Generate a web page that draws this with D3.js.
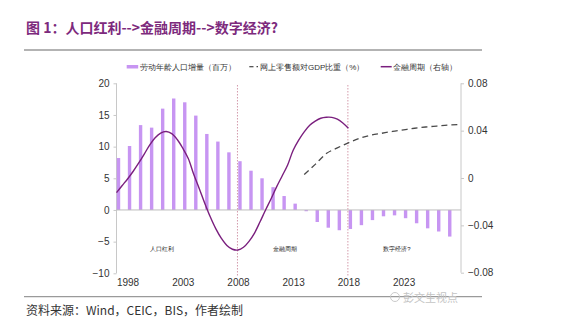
<!DOCTYPE html>
<html><head><meta charset="utf-8">
<script src="https://cdn.jsdelivr.net/npm/d3@7"></script>
<style>
html,body{margin:0;padding:0;background:#fff;}
svg{display:block;}
text{font-family:"Liberation Sans",Arial,sans-serif;}
.cjk{font-family:"Noto Sans CJK SC",sans-serif;}
</style></head>
<body>
<svg id="c" width="565" height="331"></svg>
<script>
// ---- data ----
const barYears = d3.range(1997, 2028);
const laborIncrement = [8.2,10.1,13.4,13.0,16.0,17.6,17.0,14.9,12.0,10.8,9.1,7.7,6.2,5.0,3.6,2.2,1.0,-0.2,-1.9,-2.8,-3.2,-3.0,-2.4,-1.6,-1.0,-0.85,-1.3,-2.1,-2.9,-3.4,-4.2];
const onlineYears = d3.range(2014, 2029);
const onlineShare = [5.6,7.2,8.9,9.8,10.6,11.3,11.8,12.1,12.4,12.65,12.9,13.1,13.25,13.4,13.5];
const cycleYears = d3.range(1997, 2018.01, 0.5);
const cycleValues = [-0.0124,-0.0065,-0.0008,0.0055,0.0125,0.020,0.0278,0.034,0.038,0.0393,
  0.0375,0.0325,0.0252,0.0165,0.003,-0.009,-0.0215,-0.033,-0.043,-0.051,-0.057,-0.0602,-0.0608,
  -0.0585,-0.0535,-0.0465,-0.037,-0.027,-0.0175,-0.0075,0.0017,0.011,0.0235,0.032,0.039,0.0445,
  0.048,0.0505,0.0513,0.0512,0.0497,0.0465,0.042];
const xTickYears = [1998,2003,2008,2013,2018,2023];
const leftTicks = [-10,-5,0,5,10,15,20];
const rightTicks = [-0.08,-0.04,0,0.04,0.08];
const phaseYears = [2008, 2018];
const phaseLabels = [{year:2001.1,text:"人口红利"},{year:2012.3,text:"金融周期"},{year:2022.4,text:"数字经济?"}];
const titleText = "图 1：人口红利-->金融周期-->数字经济?";
const legendLabels = ["劳动年龄人口增量（百万）","网上零售额对GDP比重（%）","金融周期（右轴）"];
const sourceText = "资料来源：Wind，CEIC，BIS，作者绘制";

// ---- chart ----
const svg = d3.select("#c");
const x = d3.scaleLinear().domain([1997, 2028.2]).range([116.5, 461]);
const yL = d3.scaleLinear().domain([-10, 20]).range([273.3, 83.3]);
const yR = d3.scaleLinear().domain([-0.08, 0.08]).range([272.7, 83.3]);

const purple = "#7a1f7e", barCol = "#c795f2", axisCol = "#c8c8c8", txt = "#333";

// title
svg.append("text").attr("class","cjk").attr("x",26).attr("y",33)
  .attr("font-size",14).attr("font-weight","bold").attr("fill","#7d2a7d").text(titleText);
svg.append("line").attr("x1",24).attr("x2",482).attr("y1",50).attr("y2",50)
  .attr("stroke","#9a9a9a").attr("stroke-width",1.5);

// legend
const lg = svg.append("g").attr("class","cjk").attr("font-size",8).attr("fill",txt);
lg.append("rect").attr("x",126.7).attr("y",65).attr("width",11.5).attr("height",3.5).attr("fill",barCol);
lg.append("text").attr("x",139.5).attr("y",69.8).text(legendLabels[0]);
lg.append("line").attr("x1",249.3).attr("x2",253.5).attr("y1",66.7).attr("y2",66.7).attr("stroke","#444").attr("stroke-width",1.2);
lg.append("line").attr("x1",256.5).attr("x2",258).attr("y1",66.7).attr("y2",66.7).attr("stroke","#444").attr("stroke-width",1.2);
lg.append("text").attr("x",260).attr("y",69.8).text(legendLabels[1]);
lg.append("line").attr("x1",380.7).attr("x2",391.7).attr("y1",66.7).attr("y2",66.7).attr("stroke",purple).attr("stroke-width",1.5);
lg.append("text").attr("x",393.3).attr("y",69.8).text(legendLabels[2]);

// axes lines
svg.append("line").attr("x1",x.range()[0]).attr("x2",x.range()[0]).attr("y1",yL(20)).attr("y2",yL(-10)).attr("stroke",axisCol);
svg.append("line").attr("x1",x.range()[1]).attr("x2",x.range()[1]).attr("y1",yR(0.08)).attr("y2",yR(-0.08)).attr("stroke",axisCol);

// left axis
const la = svg.append("g").attr("transform",`translate(${x.range()[0]},0)`)
  .call(d3.axisLeft(yL).tickValues(leftTicks).tickSize(3).tickPadding(4).tickFormat(d3.format("d")));
la.select(".domain").remove();
la.selectAll("line").attr("stroke",axisCol);
la.selectAll("text").attr("font-size",10).attr("fill",txt).attr("font-family","Liberation Sans, Arial, sans-serif");

// right axis
const ra = svg.append("g").attr("transform",`translate(${x.range()[1]},0)`)
  .call(d3.axisRight(yR).tickValues(rightTicks).tickSize(3).tickPadding(4).tickFormat(d => d===0 ? "0" : d3.format(".2f")(d)));
ra.select(".domain").remove();
ra.selectAll("line").attr("stroke",axisCol);
ra.selectAll("text").attr("font-size",10).attr("fill",txt).attr("font-family","Liberation Sans, Arial, sans-serif");

// x axis labels
const xa = svg.append("g").attr("transform",`translate(0,${yL(-10)})`)
  .call(d3.axisBottom(x).tickValues(xTickYears).tickSize(0).tickPadding(6).tickFormat(d3.format("d")));
xa.select(".domain").remove();
xa.selectAll("text").attr("font-size",10).attr("fill",txt).attr("font-family","Liberation Sans, Arial, sans-serif");

// bars
svg.append("g").selectAll("rect").data(barYears).join("rect")
  .attr("x", (d) => x(d) + 0.3)
  .attr("width", 3.4)
  .attr("y", (d,i) => yL(Math.max(0, laborIncrement[i])))
  .attr("height", (d,i) => Math.abs(yL(laborIncrement[i]) - yL(0)))
  .attr("fill", barCol);

// zero line
svg.append("line").attr("x1",x.range()[0]).attr("x2",x.range()[1]).attr("y1",yL(0)).attr("y2",yL(0)).attr("stroke","#bdbdbd");

// phase dividers
svg.append("g").selectAll("line").data(phaseYears).join("line")
  .attr("x1", d => x(d) - 0.5).attr("x2", d => x(d) - 0.5)
  .attr("y1", 85).attr("y2", 276)
  .attr("stroke","#d49aab").attr("stroke-width",1).attr("stroke-dasharray","1.5,1.5");

// phase labels
svg.append("g").attr("class","cjk").selectAll("text").data(phaseLabels).join("text")
  .attr("x", d => x(d.year)).attr("y", 250.5).attr("text-anchor","middle")
  .attr("font-size",6).attr("fill","#222").text(d => d.text);

// financial cycle line
svg.append("path")
  .datum(cycleYears.map((yr,i) => [yr, cycleValues[i]]))
  .attr("fill","none").attr("stroke",purple).attr("stroke-width",1.4)
  .attr("d", d3.line().x(d => x(d[0])).y(d => yR(d[1])).curve(d3.curveCatmullRom));

// online retail dashed line
svg.append("path")
  .datum(onlineYears.map((yr,i) => [yr, onlineShare[i]]))
  .attr("fill","none").attr("stroke","#4a4a4a").attr("stroke-width",1.3).attr("stroke-dasharray","6,4")
  .attr("d", d3.line().x(d => x(d[0])).y(d => yL(d[1])).curve(d3.curveMonotoneX));

// bottom rule and source
svg.append("line").attr("x1",24).attr("x2",482).attr("y1",296.7).attr("y2",296.7)
  .attr("stroke","#9a9a9a").attr("stroke-width",1.3);
svg.append("text").attr("class","cjk").attr("x",26).attr("y",314.5).attr("font-size",12).attr("fill",txt).text(sourceText);

// watermark
const wm = svg.append("g");
wm.append("circle").attr("cx",395).attr("cy",297).attr("r",4.5).attr("fill","none").attr("stroke","#c4c4c4").attr("stroke-width",0.9);
wm.append("text").attr("class","cjk").attr("x",403).attr("y",301.5).attr("font-size",11).attr("fill","#c4c4c4").text("彭文生视点");
</script>
</body></html>
